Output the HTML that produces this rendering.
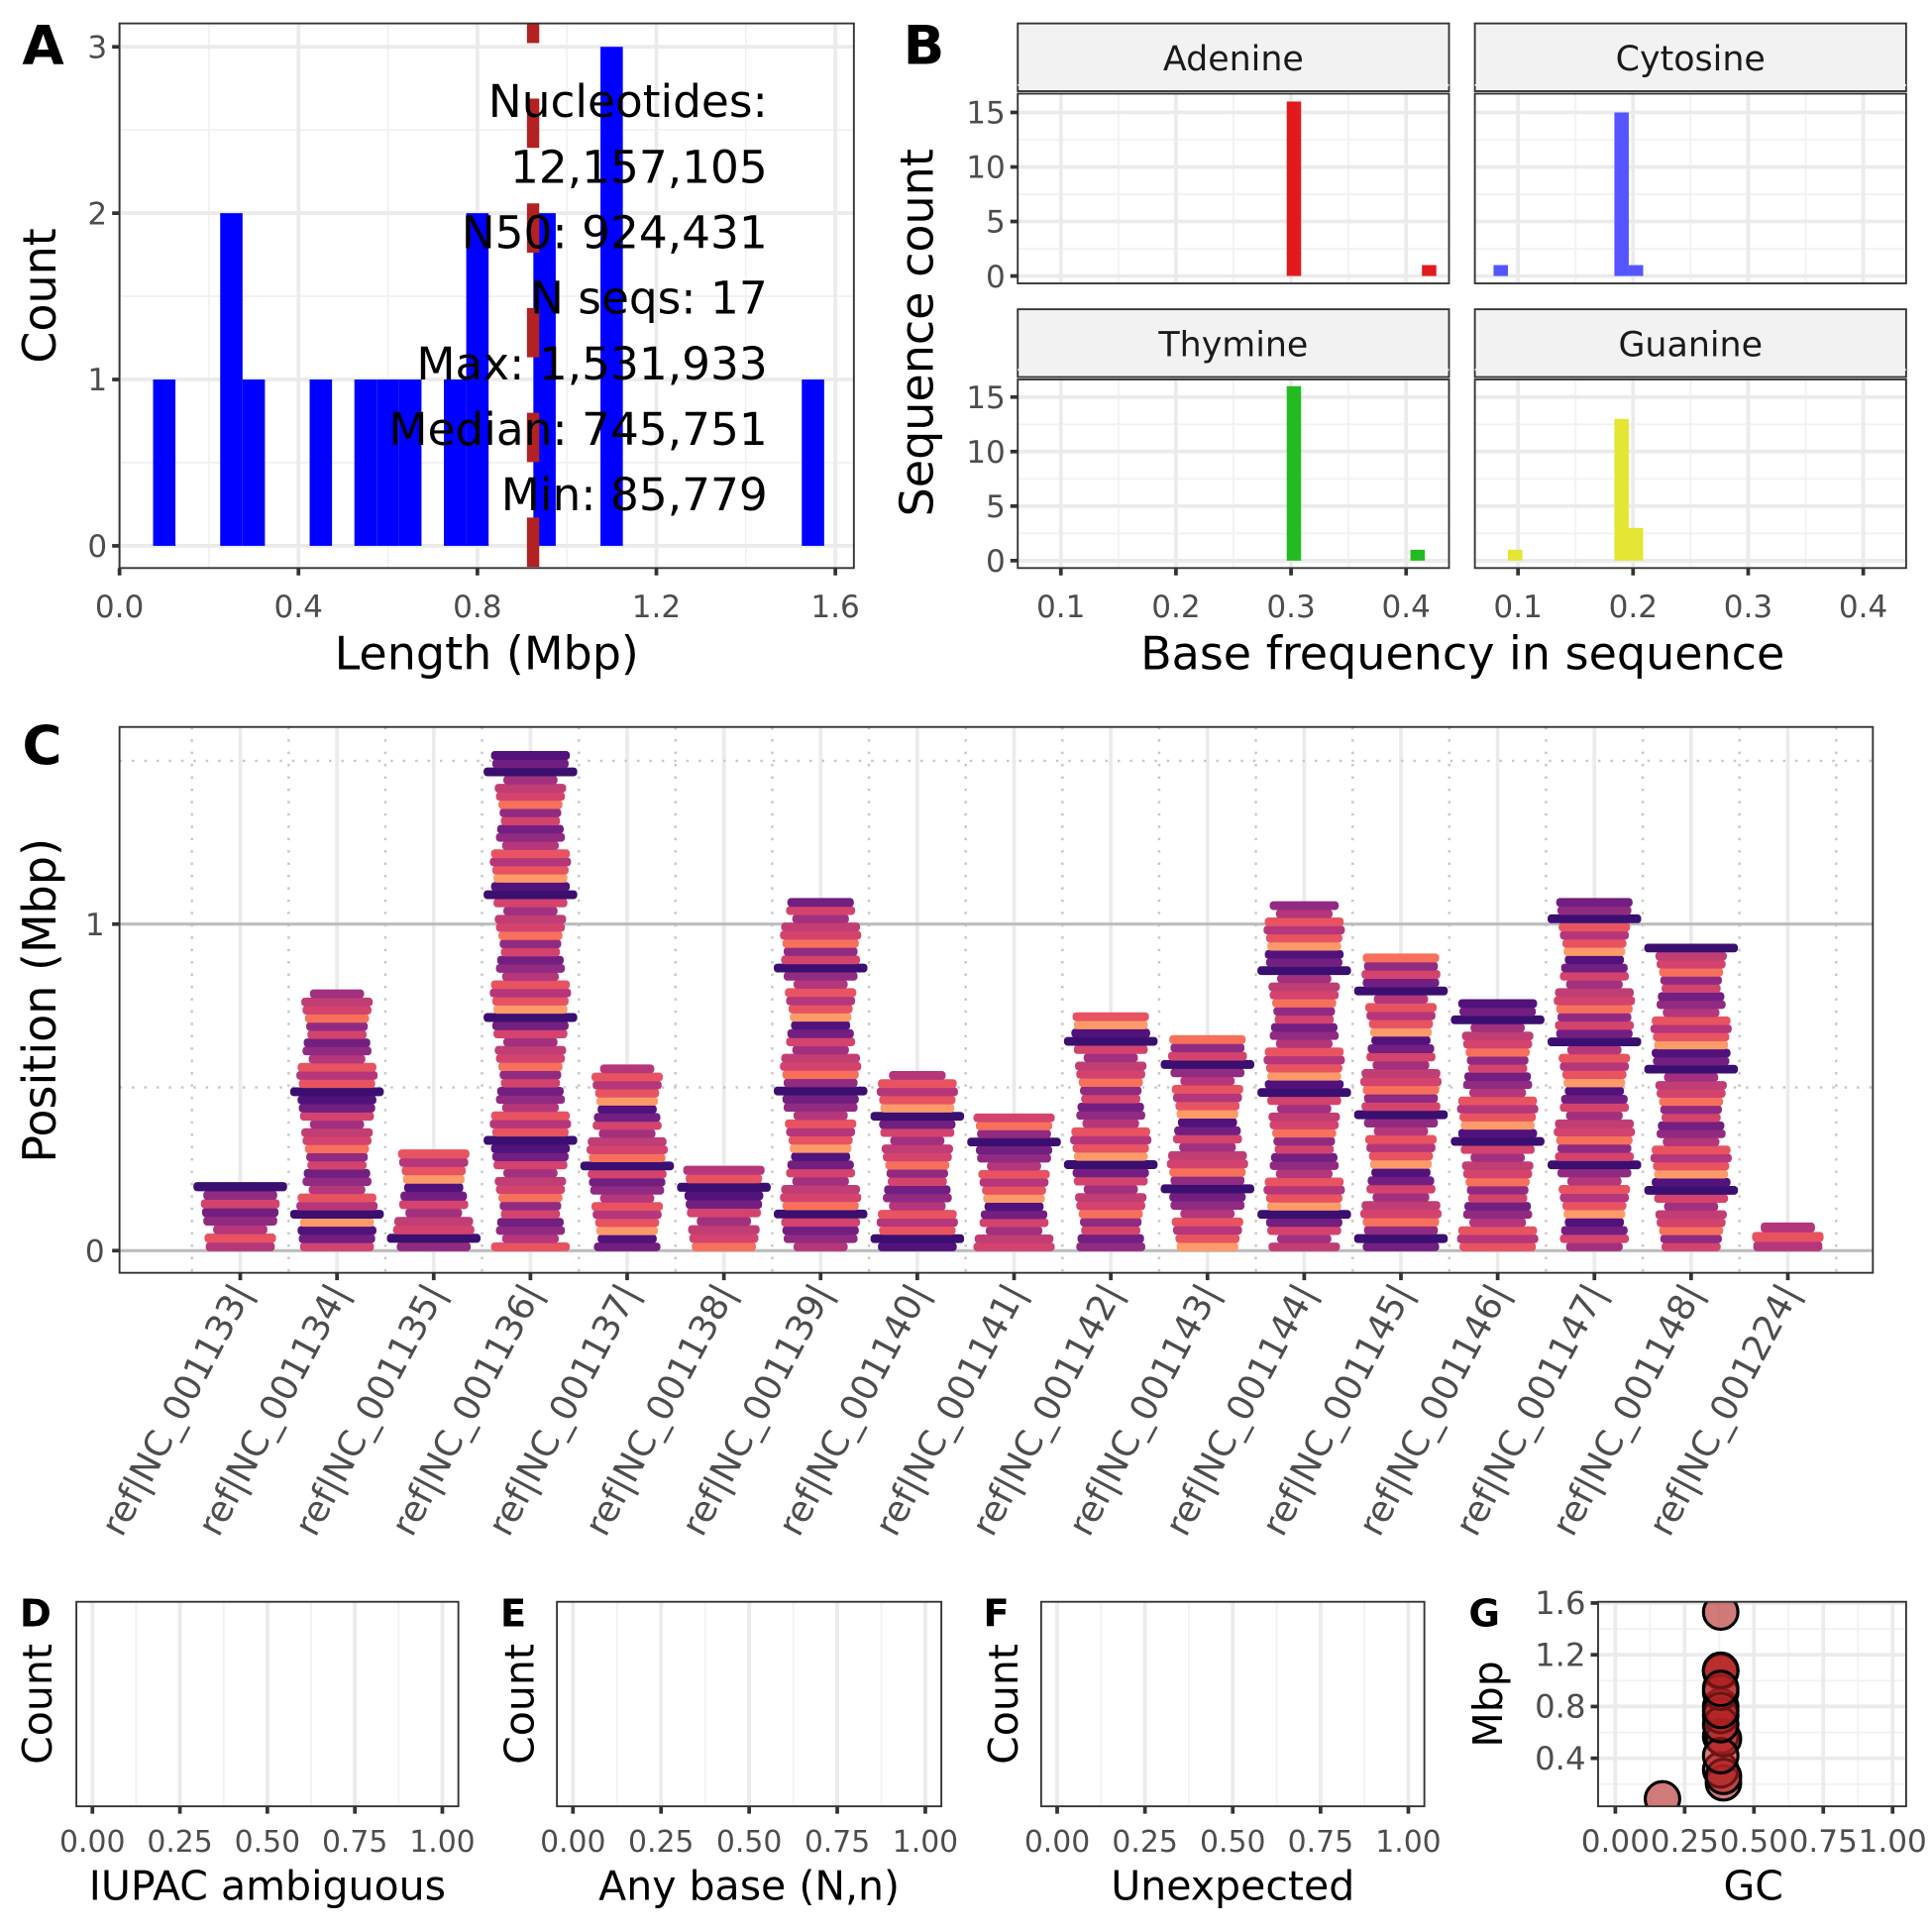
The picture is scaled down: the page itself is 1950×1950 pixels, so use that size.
<!DOCTYPE html>
<html><head><meta charset="utf-8"><style>
html,body{margin:0;padding:0;background:#fff;}
svg{display:block;font-family:"DejaVu Sans","Liberation Sans",sans-serif;}
.tick{fill:#4d4d4d;font-size:25px;}
.title{fill:#000;font-size:37px;}
.plab{fill:#000;font-size:44px;font-weight:bold;}
.plab2{fill:#000;font-size:31px;font-weight:bold;}
</style></head><body>
<svg id="fig" xmlns="http://www.w3.org/2000/svg" width="1950" height="1950" viewBox="0 0 1568 1568">
<rect x="0" y="0" width="1568" height="1568" fill="#fff"/>
<g id="gA"></g>
<g id="gB"></g>
<g id="gC"></g>
<g id="gD"></g>
<g id="gG"></g>
</svg>
<script>
// ---------- DATA ----------
const lenBinCenters = [0.1,0.25,0.3,0.45,0.55,0.6,0.65,0.75,0.8,0.95,1.1,1.55];
const lenBinCounts  = [1,2,1,1,1,1,1,1,2,2,3,1];
const lenBinWidth = 0.05;
const n50 = 0.924431;
const statLines = ["Nucleotides:","12,157,105","N50: 924,431","N seqs: 17","Max: 1,531,933","Median: 745,751","Min: 85,779"];
const lenXTicks = [0.0,0.4,0.8,1.2,1.6];
const countTicks = [0,1,2,3];

const baseNames = ["Adenine","Cytosine","Thymine","Guanine"];
const adenineBins = [0.3025,0.42];  const adenineCounts = [16,1];
const cytosineBins = [0.085,0.19,0.2025]; const cytosineCounts = [1,15,1];
const thymineBins = [0.3025,0.41]; const thymineCounts = [16,1];
const guanineBins = [0.0975,0.19,0.2025]; const guanineCounts = [1,13,3];
const freqBinWidth = 0.0125;
const freqTicks = [0.1,0.2,0.3,0.4];
const seqCountTicks = [0,5,10,15];

const seqNames = ["ref|NC_001133|","ref|NC_001134|","ref|NC_001135|","ref|NC_001136|","ref|NC_001137|","ref|NC_001138|","ref|NC_001139|","ref|NC_001140|","ref|NC_001141|","ref|NC_001142|","ref|NC_001143|","ref|NC_001144|","ref|NC_001145|","ref|NC_001146|","ref|NC_001147|","ref|NC_001148|","ref|NC_001224|"];
const seqLengths = [0.21,0.80,0.31,1.53,0.57,0.26,1.08,0.55,0.42,0.73,0.66,1.07,0.91,0.77,1.08,0.94,0.086];
const seqGC = [0.39,0.38,0.38,0.38,0.38,0.39,0.38,0.39,0.38,0.38,0.38,0.38,0.38,0.38,0.38,0.38,0.17];
const posTicks = [0,1];
const gcTicks = [0,0.25,0.5,0.75,1];
const gcTickLabels = ["0.00","0.25","0.50","0.75","1.00"];
const mbpTicks = [0.4,0.8,1.2,1.6];

// ---------- helpers ----------
const NS="http://www.w3.org/2000/svg";
function mk(tag, attrs, parent){const e=document.createElementNS(NS,tag);for(const k in attrs)e.setAttribute(k,attrs[k]);parent.appendChild(e);return e;}
function txt(s, attrs, parent){const e=mk('text',attrs,parent);e.textContent=s;return e;}

// ---------- Panel A ----------
(function(){
const g=document.getElementById('gA');
const L=97,R=693,T=19,B=461;
const x=v=>97+v*363.1, y=c=>443-c*135;
let bg=mk('rect',{x:L,y:T,width:R-L,height:B-T,fill:'#fff'},g);


for(let v=0.2;v<1.65;v+=0.4){let l=mk('line',{x1:x(v),x2:x(v),y1:T,y2:B,stroke:'#f2f2f2','stroke-width':1.5},g);

}
for(let c=0.5;c<3.2;c+=1){let l=mk('line',{x1:L,x2:R,y1:y(c),y2:y(c),stroke:'#f2f2f2','stroke-width':1.5},g);

}
lenXTicks.forEach(v=>{let l=mk('line',{x1:x(v),x2:x(v),y1:T,y2:B,stroke:'#ebebeb','stroke-width':3},g);

});
countTicks.forEach(c=>{let l=mk('line',{x1:L,x2:R,y1:y(c),y2:y(c),stroke:'#ebebeb','stroke-width':3},g);

});
lenBinCenters.forEach((v,i)=>{const r=mk('rect',{x:x(v-lenBinWidth/2),y:y(lenBinCounts[i]),width:x(v+lenBinWidth/2)-x(v-lenBinWidth/2),height:y(0)-y(lenBinCounts[i]),fill:'#0000ff'},g);

});
let d=mk('line',{x1:x(n50),x2:x(n50),y1:T,y2:B,stroke:'#b22222','stroke-width':10,'stroke-dasharray':'40 45','stroke-dashoffset':'24'},g);


statLines.forEach((s,i)=>{let t=txt(s,{x:623,y:95+i*53.2,'text-anchor':'end',style:'font-size:36.5px',fill:'#000'},g);

});
let fr=mk('rect',{x:L,y:T,width:R-L,height:B-T,fill:'none',stroke:'#333','stroke-width':1.5},g);


countTicks.forEach(c=>{mk('line',{x1:L-6,x2:L,y1:y(c),y2:y(c),stroke:'#333','stroke-width':3},g);
let t=txt(String(c),{x:L-10,y:y(c)+9,'text-anchor':'end',class:'tick'},g);

});
lenXTicks.forEach(v=>{mk('line',{x1:x(v),x2:x(v),y1:B,y2:B+6,stroke:'#333','stroke-width':3},g);
let t=txt(v.toFixed(1),{x:x(v),y:B+40,'text-anchor':'middle',class:'tick'},g);

});
let xt=txt('Length (Mbp)',{x:395,y:543,'text-anchor':'middle',class:'title'},g);


let yt=txt('Count',{x:0,y:0,'text-anchor':'middle',class:'title',transform:'translate(45,240) rotate(-90)'},g);


let pl=txt('A',{x:18,y:52,class:'plab'},g);


})();

// ---------- Panel B ----------
(function(){
const g=document.getElementById('gB');
const facets=[
 {name:baseNames[0],bins:adenineBins,counts:adenineCounts,col:'#e31a1c',L:826,R:1176,sT:19,T:76,B:230,x0:861},
 {name:baseNames[1],bins:cytosineBins,counts:cytosineCounts,col:'#5555ff',L:1197,R:1547,sT:19,T:76,B:230,x0:1232},
 {name:baseNames[2],bins:thymineBins,counts:thymineCounts,col:'#22bb22',L:826,R:1176,sT:251,T:308,B:461,x0:861},
 {name:baseNames[3],bins:guanineBins,counts:guanineCounts,col:'#e5e533',L:1197,R:1547,sT:251,T:308,B:461,x0:1232}];
facets.forEach((f,fi)=>{
 const x=v=>f.x0+(v-0.1)*934, y0=f.B-6, y=c=>y0-c*8.85;
 let s=mk('rect',{x:f.L,y:f.sT,width:f.R-f.L,height:f.T-f.sT-2,fill:'#f2f2f2',stroke:'#333','stroke-width':1.5},g);
 
 
 let st=txt(f.name,{x:(f.L+f.R)/2,y:f.sT+38,'text-anchor':'middle',style:'font-size:28px',fill:'#1a1a1a'},g);
 
 
 for(let v=0.05;v<0.46;v+=0.1){if(x(v)>f.L&&x(v)<f.R){let l=mk('line',{x1:x(v),x2:x(v),y1:f.T,y2:f.B,stroke:'#f2f2f2','stroke-width':1.5},g);
 
 }}
 for(let c=2.5;c<18;c+=5){let l=mk('line',{x1:f.L,x2:f.R,y1:y(c),y2:y(c),stroke:'#f2f2f2','stroke-width':1.5},g);
 
 }
 freqTicks.forEach(v=>{let l=mk('line',{x1:x(v),x2:x(v),y1:f.T,y2:f.B,stroke:'#ebebeb','stroke-width':3},g);
 
 });
 seqCountTicks.forEach(c=>{let l=mk('line',{x1:f.L,x2:f.R,y1:y(c),y2:y(c),stroke:'#ebebeb','stroke-width':3},g);
 
 });
 f.bins.forEach((v,i)=>{let r=mk('rect',{x:x(v-freqBinWidth/2),y:y(f.counts[i]),width:x(v+freqBinWidth/2)-x(v-freqBinWidth/2),height:y(0)-y(f.counts[i]),fill:f.col},g);
 
 });
 let fr=mk('rect',{x:f.L,y:f.T,width:f.R-f.L,height:f.B-f.T,fill:'none',stroke:'#333','stroke-width':1.5},g);
 
 
 if(fi%2===0){seqCountTicks.forEach(c=>{mk('line',{x1:f.L-6,x2:f.L,y1:y(c),y2:y(c),stroke:'#333','stroke-width':3},g);
  let t=txt(String(c),{x:f.L-10,y:y(c)+9,'text-anchor':'end',class:'tick'},g);
  
  });}
 if(fi>=2){freqTicks.forEach(v=>{mk('line',{x1:x(v),x2:x(v),y1:f.B,y2:f.B+6,stroke:'#333','stroke-width':3},g);
  let t=txt(v.toFixed(1),{x:x(v),y:f.B+40,'text-anchor':'middle',class:'tick'},g);
  
  });}
});
let xt=txt('Base frequency in sequence',{x:1187,y:543,'text-anchor':'middle',class:'title'},g);


let yt=txt('Sequence count',{x:0,y:0,'text-anchor':'middle',class:'title',transform:'translate(757,270) rotate(-90)'},g);


let pl=txt('B',{x:733,y:52,class:'plab'},g);


})();

// ---------- Panel C ----------
(function(){
const g=document.getElementById('gC');
const L=97,R=1520,T=590,B=1033;
const x=i=>195+i*78.5, y=v=>1015-v*265;
const widths=[56,62,50,64,54,60,46,58,66,52,60,48,62,56,44,64];
const cols=['#b5367a','#d3436e','#912b81','#e85362','#721f81','#f7705c','#b5367a','#51127c','#d3436e','#912b81','#fd9a6a','#c13e74','#721f81','#e85362','#a3307e','#d3436e'];
for(let i=-1;i<seqNames.length;i++){let l=mk('line',{x1:x(i)+39.25,x2:x(i)+39.25,y1:T,y2:B,stroke:'#c8c8c8','stroke-width':2,'stroke-dasharray':'2 8'},g);

}
seqNames.forEach((n,i)=>{let l=mk('line',{x1:x(i),x2:x(i),y1:T,y2:B,stroke:'#ebebeb','stroke-width':3},g);

});
[0.5,1.5].forEach(v=>{let l=mk('line',{x1:L,x2:R,y1:y(v),y2:y(v),stroke:'#c8c8c8','stroke-width':2,'stroke-dasharray':'2 8'},g);

});
posTicks.forEach(v=>{let l=mk('line',{x1:L,x2:R,y1:y(v),y2:y(v),stroke:'#bdbdbd','stroke-width':2.5},g);

});
const step=0.025;
seqLengths.forEach((len,i)=>{
 const grp=mk('g',{},g);
 
 
 const n=Math.max(1,Math.round(len/step));
 for(let k=0;k<n;k++){
  const v0=k*len/n, v1=(k+1)*len/n;
  const dark=((k+i*3)%15===7);
  const w=dark?76:widths[(k*7+i*5)%widths.length];
  const c=dark?'#3b0f70':cols[(k*3+i)%cols.length];
  let r=mk('rect',{x:x(i)-w/2,y:y(v1),width:w,height:Math.max(3,y(v0)-y(v1)+0.5),rx:3,fill:c},grp);
  
  
 }
});
let fr=mk('rect',{x:L,y:T,width:R-L,height:B-T,fill:'none',stroke:'#333','stroke-width':1.5},g);


posTicks.forEach(v=>{mk('line',{x1:L-6,x2:L,y1:y(v),y2:y(v),stroke:'#333','stroke-width':3},g);
let t=txt(String(v),{x:L-12,y:y(v)+9,'text-anchor':'end',class:'tick'},g);

});
seqNames.forEach((n,i)=>{mk('line',{x1:x(i),x2:x(i),y1:B,y2:B+6,stroke:'#333','stroke-width':3},g);
let t=txt(n,{x:0,y:0,'text-anchor':'end',class:'tick',style:'font-size:29px',transform:`translate(${x(i)+10},${B+16}) rotate(-62)`},g);

});
let yt=txt('Position (Mbp)',{x:0,y:0,'text-anchor':'middle',class:'title',transform:'translate(45,812) rotate(-90)'},g);


let pl=txt('C',{x:18,y:620,class:'plab'},g);


})();

// ---------- Panels D, E, F ----------
(function(){
const g=document.getElementById('gD');
const panels=[{L:62,R:372,lab:'D',lx:16,title:'IUPAC ambiguous',yx:42,name:'panel-d'},{L:452,R:764,lab:'E',lx:406,title:'Any base (N,n)',yx:433,name:'panel-e'},{L:845,R:1156,lab:'F',lx:798,title:'Unexpected',yx:826,name:'panel-f'}];
const T=1300,B=1466;
panels.forEach(p=>{
 const x=v=>p.L+13+v*(p.R-p.L-26);
 const pg=mk('g',{},g);
 
 
 for(let v=0.125;v<1;v+=0.25){let l=mk('line',{x1:x(v),x2:x(v),y1:T,y2:B,stroke:'#f2f2f2','stroke-width':1.5},pg);
 
 }
 gcTicks.forEach(v=>{let l=mk('line',{x1:x(v),x2:x(v),y1:T,y2:B,stroke:'#ebebeb','stroke-width':3},pg);
 
 });
 let fr=mk('rect',{x:p.L,y:T,width:p.R-p.L,height:B-T,fill:'none',stroke:'#333','stroke-width':1.5},pg);
 
 
 gcTicks.forEach((v,i)=>{mk('line',{x1:x(v),x2:x(v),y1:B,y2:B+6,stroke:'#333','stroke-width':3},pg);
 let t=txt(gcTickLabels[i],{x:x(v),y:B+37,'text-anchor':'middle',class:'tick',style:'font-size:24px'},pg);
 
 });
 let xt=txt(p.title,{x:(p.L+p.R)/2,y:1542,'text-anchor':'middle',class:'title',style:'font-size:33px'},pg);
 
 
 let yt=txt('Count',{x:0,y:0,'text-anchor':'middle',class:'title',style:'font-size:33px',transform:`translate(${p.yx},1383) rotate(-90)`},pg);
 
 
 let pl=txt(p.lab,{x:p.lx,y:1320,class:'plab2'},pg);
 
 
});
})();

// ---------- Panel G ----------
(function(){
const g=document.getElementById('gG');
const L=1297,R=1547,T=1300,B=1466;
const x=v=>1311+v*225, y=v=>1469-v*105;
for(let v=0.125;v<1;v+=0.25){let l=mk('line',{x1:x(v),x2:x(v),y1:T,y2:B,stroke:'#f2f2f2','stroke-width':1.5},g);

}
for(let v=0.2;v<1.6;v+=0.4){let l=mk('line',{x1:L,x2:R,y1:y(v),y2:y(v),stroke:'#f2f2f2','stroke-width':1.5},g);

}
gcTicks.forEach(v=>{let l=mk('line',{x1:x(v),x2:x(v),y1:T,y2:B,stroke:'#ebebeb','stroke-width':3},g);

});
mbpTicks.forEach(v=>{let l=mk('line',{x1:L,x2:R,y1:y(v),y2:y(v),stroke:'#ebebeb','stroke-width':3},g);

});
const clip=mk('clipPath',{id:'gclip'},g);
mk('rect',{x:L,y:T,width:R-L,height:B-T},clip);
const pts=mk('g',{'clip-path':'url(#gclip)'},g);
seqLengths.forEach((v,i)=>{let c=mk('circle',{cx:x(seqGC[i]),cy:y(v),r:14,fill:'rgba(178,34,34,0.6)',stroke:'#000','stroke-width':2.5},pts);

});
let fr=mk('rect',{x:L,y:T,width:R-L,height:B-T,fill:'none',stroke:'#333','stroke-width':1.5},g);


mbpTicks.forEach(v=>{mk('line',{x1:L-6,x2:L,y1:y(v),y2:y(v),stroke:'#333','stroke-width':3},g);
let t=txt(v.toFixed(1),{x:L-10,y:y(v)+9,'text-anchor':'end',class:'tick',style:'font-size:26px'},g);

});
gcTicks.forEach((v,i)=>{mk('line',{x1:x(v),x2:x(v),y1:B,y2:B+6,stroke:'#333','stroke-width':3},g);
let t=txt(gcTickLabels[i],{x:x(v),y:B+37,'text-anchor':'middle',class:'tick'},g);

});
let xt=txt('GC',{x:1423,y:1542,'text-anchor':'middle',class:'title',style:'font-size:33px'},g);


let yt=txt('Mbp',{x:0,y:0,'text-anchor':'middle',class:'title',style:'font-size:33px',transform:'translate(1219,1383) rotate(-90)'},g);


let pl=txt('G',{x:1192,y:1320,class:'plab2'},g);


})();
</script>
</body></html>
